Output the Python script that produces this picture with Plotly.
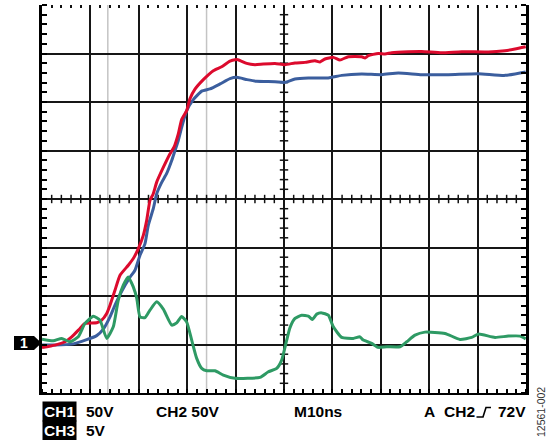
import numpy as np
import plotly.graph_objects as go

# ---------------- data (time in ns, amplitude in screen divisions) ----------------
ch2_t = [0, 2.69, 4.75, 6.14, 7.85, 8.88, 11.30, 12.33, 13.37, 14.05, 15.08, 16.12, 17.83, 18.86,
         19.90, 20.93, 21.63, 22.31, 22.99, 23.70, 25.06, 26.45, 27.27, 28.16, 28.86, 29.90, 30.58,
         31.61, 33.33, 35.39, 37.13, 38.84, 39.88, 40.50, 42.29, 44.01, 45.72, 48.14, 50.21, 52.27,
         54.34, 56.40, 57.44, 58.47, 60.19, 61.57, 63.29, 66.05, 66.74, 67.42, 69.48, 70.87, 72.25,
         75.68, 78.45, 82.58, 86.71, 92.21, 95.66, 97.73, 99.94]
ch2_v = [0.936, 0.988, 1.056, 1.158, 1.331, 1.434, 1.447, 1.502, 1.640, 1.811, 2.119, 2.428, 2.634,
         2.772, 2.977, 3.251, 3.560, 3.971, 4.109, 4.348, 4.650, 4.932, 5.068, 5.344, 5.638, 5.823,
         6.070, 6.265, 6.461, 6.646, 6.728, 6.842, 6.872, 6.872, 6.796, 6.770, 6.784, 6.796, 6.770,
         6.805, 6.817, 6.852, 6.825, 6.887, 6.920, 6.866, 6.934, 6.934, 6.907, 6.955, 7.002, 6.990,
         7.016, 7.037, 7.043, 7.016, 7.037, 7.031, 7.058, 7.093, 7.140]

ch1_t = [0, 2.69, 6.14, 9.24, 11.30, 12.67, 14.05, 15.08, 16.47, 18.18, 19.21, 20.25, 21.28, 21.96,
         22.99, 23.70, 24.73, 25.76, 26.80, 27.48, 28.16, 28.86, 29.90, 31.26, 33.00, 34.71, 36.78,
         38.84, 40.23, 42.36, 44.36, 48.14, 50.21, 52.27, 55.02, 59.15, 61.92, 66.05, 70.19, 73.62,
         78.45, 83.95, 90.15, 95.66, 99.94]
ch1_v = [0.988, 0.988, 1.008, 1.101, 1.183, 1.317, 1.570, 1.811, 2.099, 2.387, 2.531, 2.840, 3.080,
         3.457, 3.800, 4.109, 4.342, 4.527, 4.794, 5.000, 5.206, 5.479, 5.823, 6.049, 6.224, 6.270,
         6.372, 6.481, 6.508, 6.461, 6.426, 6.420, 6.405, 6.475, 6.496, 6.496, 6.549, 6.578, 6.564,
         6.599, 6.564, 6.564, 6.584, 6.549, 6.619]

ch3_t = [0, 2.33, 4.07, 5.79, 7.50, 8.88, 10.60, 11.98, 13.37, 14.73, 15.76, 16.80, 17.83, 18.86,
         19.57, 20.25, 21.28, 22.31, 23.70, 25.06, 26.80, 27.83, 28.86, 29.90, 30.93, 31.96, 33.00,
         34.03, 35.74, 37.46, 39.88, 45.04, 46.69, 48.49, 49.52, 50.56, 51.24, 52.27, 53.66, 55.02,
         55.85, 56.76, 57.79, 59.15, 60.19, 61.92, 64.32, 65.70, 66.38, 68.12, 69.48, 71.22, 73.97,
         75.35, 77.07, 79.13, 83.26, 86.36, 88.78, 90.15, 93.60, 96.35, 98.76, 99.94]
ch3_v = [1.111, 1.076, 1.126, 1.056, 1.158, 1.434, 1.584, 1.502, 1.126, 1.364, 1.914, 2.222, 2.393,
         2.187, 1.955, 1.570, 1.553, 1.708, 1.879, 1.728, 1.399, 1.447, 1.578, 1.461, 1.091, 0.714,
         0.508, 0.459, 0.459, 0.370, 0.302, 0.323, 0.432, 0.508, 0.679, 1.091, 1.348, 1.537, 1.605,
         1.584, 1.516, 1.626, 1.652, 1.605, 1.364, 1.146, 1.126, 1.158, 1.091, 1.023, 0.940, 0.953,
         0.953, 1.056, 1.193, 1.255, 1.228, 1.105, 1.146, 1.214, 1.146, 1.173, 1.173, 1.117]

cursor_times = [13.6, 34.0]
ground_level = 1.03

# screen: 10 horizontal divisions of 10 ns, 8 vertical divisions
X_DIVS, Y_DIVS, NS_PER_DIV, MINOR = 10, 8, 10, 5
X_MAX = X_DIVS * NS_PER_DIV

# ---------------- layout geometry (pixels) ----------------
W, H = 550, 440
PL, PR, PT, PB = 42, 526, 5, 393


def pxx(px):
    return (px - PL) / (PR - PL)


def pxy(py):
    return (PB - py) / (PB - PT)


FONT = "Liberation Sans, Arial, sans-serif"
RED, BLUE, GREEN = "#dc0a2d", "#3b5e9e", "#2e9a64"

fig = go.Figure()

# center-line tick marks (graticule decoration)
xminor = np.arange(0, X_MAX + 1e-9, NS_PER_DIV / MINOR)
xminor = [v for v in xminor if abs(v / NS_PER_DIV - round(v / NS_PER_DIV)) > 1e-6]
yminor = np.arange(0, Y_DIVS + 1e-9, 1 / MINOR)
yminor = [v for v in yminor if abs(v - round(v)) > 1e-6]

fig.add_trace(go.Scatter(x=xminor, y=[Y_DIVS / 2] * len(xminor), mode="markers",
                         marker=dict(symbol="line-ns", size=6, line=dict(width=1.5, color="#111")),
                         hoverinfo="skip", showlegend=False, cliponaxis=False))
fig.add_trace(go.Scatter(x=[X_MAX / 2] * len(yminor), y=yminor, mode="markers",
                         marker=dict(symbol="line-ew", size=6, line=dict(width=1.5, color="#111")),
                         hoverinfo="skip", showlegend=False, cliponaxis=False))

# traces
for t, v, c in [(ch1_t, ch1_v, BLUE), (ch2_t, ch2_v, RED), (ch3_t, ch3_v, GREEN)]:
    fig.add_trace(go.Scatter(x=t, y=v, mode="lines",
                             line=dict(color=c, width=3, shape="spline", smoothing=0.5),
                             hoverinfo="skip", showlegend=False))

# dummy trace to host the top tick axis
fig.add_trace(go.Scatter(x=[], y=[], xaxis="x2", showlegend=False))

shapes = []
for ct in cursor_times:
    shapes.append(dict(type="line", xref="x", yref="paper", x0=ct, x1=ct, y0=0, y1=1,
                       line=dict(color="#c4c4c4", width=1.5), layer="below"))

# ground marker "1" (pentagon arrow)
gy = ground_level
hh = 7 / (PB - PT) * Y_DIVS
path = (f"M {pxx(14)},{gy + hh} L {pxx(34)},{gy + hh} L {pxx(41.5)},{gy} "
        f"L {pxx(34)},{gy - hh} L {pxx(14)},{gy - hh} Z")
shapes.append(dict(type="path", xref="paper", yref="y", path=path,
                   fillcolor="black", line=dict(width=0)))

# trigger edge symbol
sy_lo, sy_hi = pxy(417), pxy(407.5)
shapes.append(dict(type="path", xref="paper", yref="paper",
                   path=f"M {pxx(476.5)},{sy_lo} L {pxx(483)},{sy_lo} L {pxx(486)},{sy_hi} L {pxx(491)},{sy_hi}",
                   line=dict(color="black", width=1.6)))

ann = []
fs = 15.5


def txt(s, px, py, anchor="left", color="black", bg=None, size=fs):
    d = dict(text=f"<b>{s}</b>", x=pxx(px), y=pxy(py), xref="paper", yref="paper",
             xanchor=anchor, yanchor="middle", showarrow=False,
             font=dict(family=FONT, size=size, color=color))
    if bg:
        d.update(bgcolor=bg, borderpad=1)
    ann.append(d)


txt("CH1", 41.5, 411, color="white", bg="black")
txt("50V", 84, 411)
txt("CH2 50V", 153.5, 411)
txt("M10ns", 292, 411)
txt("A", 421.5, 411)
txt("CH2", 441.5, 411)
txt("72V", 527.5, 411, anchor="right")
txt("CH3", 41.5, 430.5, color="white", bg="black")
txt("5V", 84, 430.5)
ann.append(dict(text="<b>1</b>", x=pxx(24), y=gy, xref="paper", yref="y",
                xanchor="center", yanchor="middle", showarrow=False,
                font=dict(family=FONT, size=14, color="white")))
ann.append(dict(text="12561-002", x=pxx(541), y=pxy(412), xref="paper", yref="paper",
                xanchor="center", yanchor="middle", showarrow=False, textangle=-90,
                font=dict(family=FONT, size=10.5, color="#333")))

grid = dict(color="#161616", width=1.6)

fig.update_layout(
    width=W, height=H,
    margin=dict(l=PL, r=W - PR, t=PT, b=H - PB, pad=0),
    paper_bgcolor="white", plot_bgcolor="white",
    shapes=shapes, annotations=ann,
    xaxis=dict(range=[0, X_MAX], tickvals=list(range(0, X_MAX + 1, NS_PER_DIV)),
               showgrid=True, gridcolor=grid["color"], gridwidth=grid["width"],
               showline=True, linecolor="black", linewidth=2.2,
               ticks="", showticklabels=False, zeroline=False,
               minor=dict(dtick=NS_PER_DIV / MINOR, tick0=0, ticks="inside", ticklen=4,
                          tickwidth=1.5, tickcolor="black", showgrid=False),
               fixedrange=True),
    xaxis2=dict(range=[0, X_MAX], overlaying="x", side="top", anchor="y",
                showgrid=False, showline=False, zeroline=False, showticklabels=False,
                tickvals=xminor, ticks="inside", ticklen=3, tickwidth=1.8, tickcolor="#111"),
    yaxis=dict(range=[0, Y_DIVS], tickvals=list(range(0, Y_DIVS)),
               showgrid=True, gridcolor=grid["color"], gridwidth=grid["width"],
               showline=True, mirror="ticks", linecolor="black", linewidth=2.6,
               ticks="", showticklabels=False, zeroline=False,
               minor=dict(dtick=1 / MINOR, tick0=0, ticks="inside", ticklen=5,
                          tickwidth=1.5, tickcolor="black", showgrid=False),
               fixedrange=True),
)

fig.write_html("out.html", config={"displayModeBar": False},
               post_script="document.body.style.margin='0';document.body.style.overflow='hidden';")
